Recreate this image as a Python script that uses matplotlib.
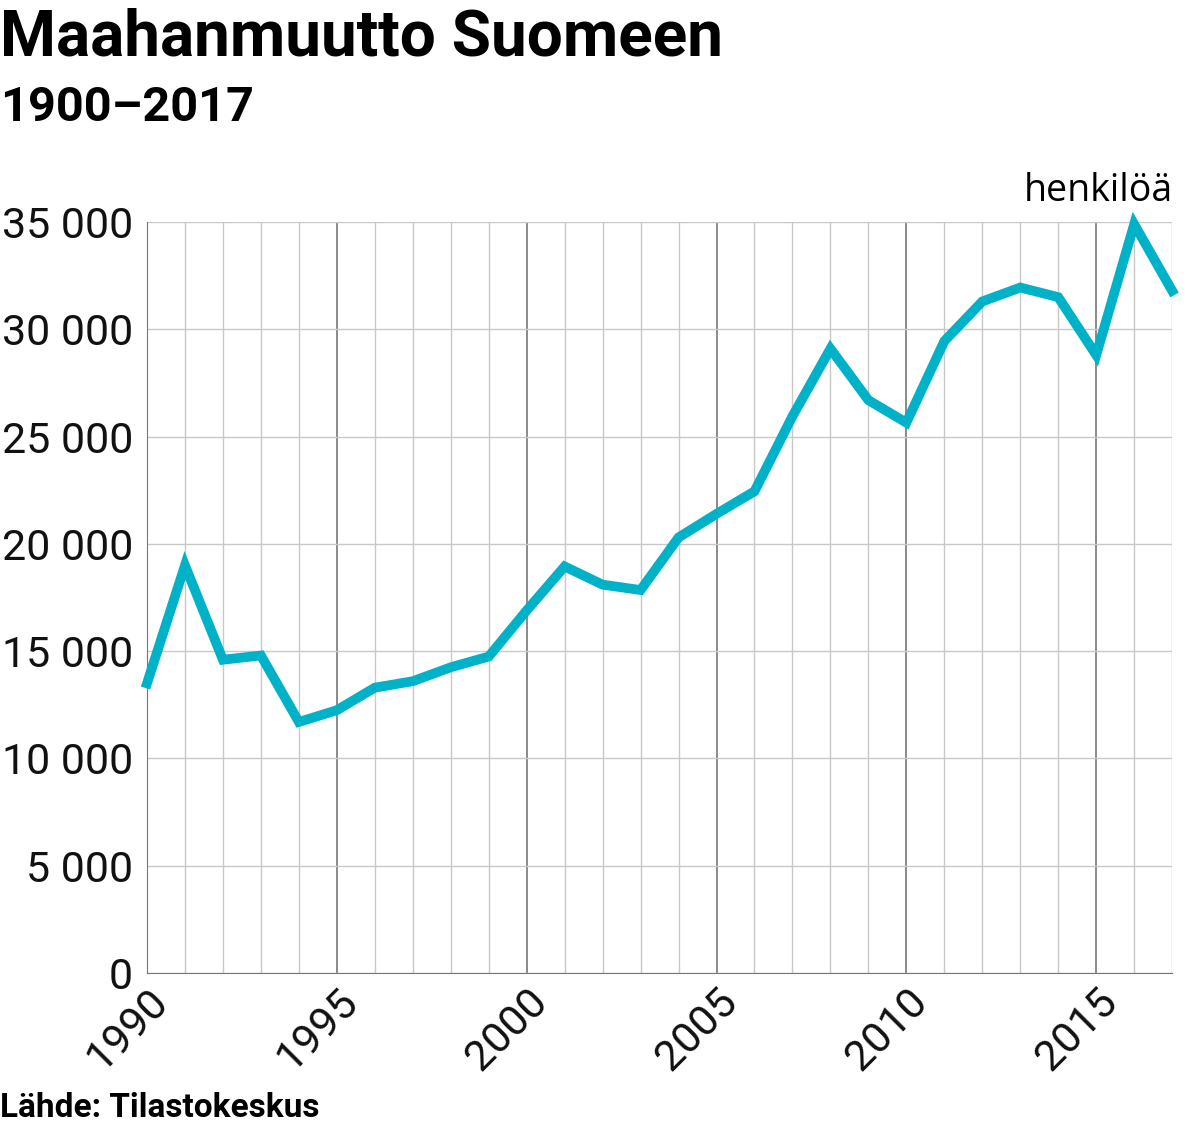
import matplotlib
matplotlib.use("Agg")
import matplotlib.pyplot as plt
from matplotlib.ticker import MultipleLocator, FuncFormatter

years = list(range(1990, 2018))
values = [13500, 19000, 14600, 14800, 11700, 12250, 13300, 13600, 14250, 14750,
          16900, 18950, 18100, 17850, 20300, 21400, 22450, 25950, 29100, 26700,
          25650, 29450, 31300, 31950, 31500, 28800, 34900, 31800]
title = "Maahanmuutto Suomeen"
subtitle = "1900–2017"
unit = "henkilöä"
source = "Lähde: Tilastokeskus"

plt.rcParams['font.family'] = ['Roboto', 'DejaVu Sans']
fig = plt.figure(figsize=(11.99, 11.33), dpi=100)
ax = fig.add_axes([0.1226, 0.1412, 0.855, 0.6628])
ax.set_xlim(1990, 2017)
ax.set_ylim(0, 35000)
ax.xaxis.set_major_locator(MultipleLocator(5))
ax.xaxis.set_minor_locator(MultipleLocator(1))
ax.yaxis.set_major_locator(MultipleLocator(5000))
ax.grid(which='minor', axis='x', color='#c8c8c8', lw=1)
ax.grid(which='major', axis='x', color='#777777', lw=1.2)
ax.grid(which='major', axis='y', color='#c8c8c8', lw=1)
ax.set_axisbelow(True)
ax.plot(years, values, color='#00b2c8', lw=7, solid_joinstyle='miter', clip_on=False, zorder=5)
for s in ['top', 'right']:
    ax.spines[s].set_visible(False)
for s in ['left', 'bottom']:
    ax.spines[s].set_color('#777777')
ax.tick_params(which='both', length=0, labelsize=31, colors='#111111')
ax.tick_params(axis='y', pad=10)
ax.tick_params(axis='x', pad=6)
ax.yaxis.set_major_formatter(FuncFormatter(lambda v, p: f"{int(v):,}".replace(",", " ")))
for lbl in ax.get_xticklabels():
    lbl.set_rotation(45); lbl.set_ha('right'); lbl.set_va('top')
    lbl.set_rotation_mode('anchor')
fig.text(0.0, 0.993, title, fontsize=46, fontweight='bold', va='top', ha='left')
fig.text(0.0, 0.925, subtitle, fontsize=35, fontweight='bold', va='top', ha='left')
fig.text(0.978, 0.815, unit, fontsize=27, ha='right', va='bottom', family=['Open Sans', 'DejaVu Sans'])
fig.text(0.0, 0.008, source, fontsize=24, fontweight='bold', ha='left', va='bottom')
fig.savefig("out.png", dpi=100)
